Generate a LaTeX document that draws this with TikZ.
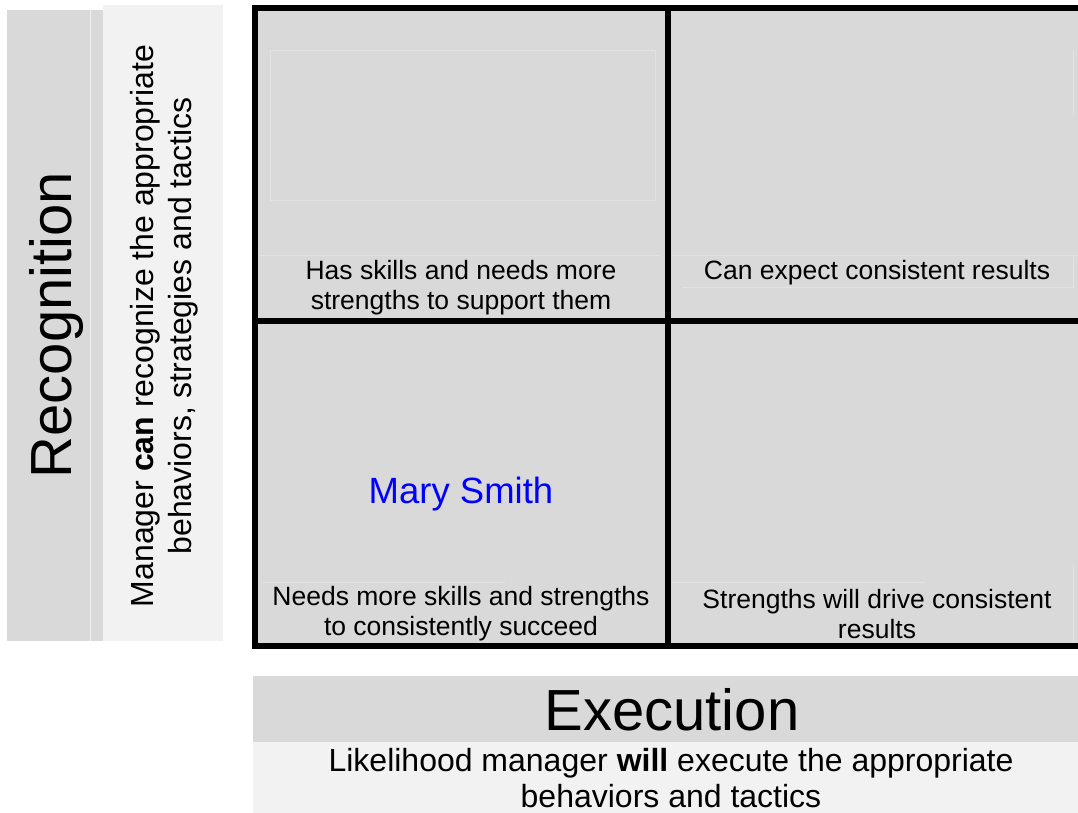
\documentclass[tikz,border=0pt]{standalone}
\usepackage{fontspec}
\setmainfont{Liberation Sans}
\definecolor{bandgray}{HTML}{D9D9D9}
\definecolor{bandlight}{HTML}{F2F2F2}
\definecolor{faintline}{HTML}{E2E2E2}
\definecolor{nameblue}{HTML}{0000FF}
\tikzset{
  grid line/.style={line width=6pt, line cap=rect},
  faint/.style={draw=faintline, line width=0.8pt},
  celltext/.style={align=center, font=\fontsize{26.5}{30}\selectfont, inner sep=0pt},
  axistitle/.style={font=\fontsize{58}{66}\selectfont, inner sep=0pt},
  axisnote/.style={align=center, inner sep=0pt},
}
\begin{document}
\begin{tikzpicture}[x=1pt,y=-1pt]
  % canvas
  \useasboundingbox[fill=white] (0,0) rectangle (1078,813);

  % vertical axis bands
  \fill[bandgray] (7,10) rectangle (103,641);
  \draw[faint, draw=white!60!bandgray] (90,10) -- (90,641);
  \fill[bandlight] (103,5) rectangle (223,641);

  % horizontal axis bands
  \fill[bandgray] (253,676) rectangle (1078,742);
  \fill[bandlight] (253,742) rectangle (1078,813);

  % quadrant fill
  \fill[bandgray] (255,8) rectangle (1078,646);

  % faint outlines of the quadrant text boxes
  \draw[faint] (270,50) rectangle (655,200);
  \draw[faint] (260,255) -- (660,255);
  \draw[faint] (672,255) -- (1078,255);
  \draw[faint] (682,287) -- (1073,287) -- (1073,257);
  \draw[faint] (1073,50) -- (1073,115);
  \draw[faint] (262,582) -- (505,582);
  \draw[faint] (672,582) -- (925,582);
  \draw[faint] (1073,565) -- (1073,643);

  % quadrant frame
  \coordinate (tl) at (255,8);
  \coordinate (tr) at (1078,8);
  \coordinate (bl) at (255,646);
  \coordinate (br) at (1078,646);
  \coordinate (mt) at (668,8);
  \coordinate (mb) at (668,646);
  \coordinate (ml) at (255,321);
  \coordinate (mr) at (1078,321);
  \draw[grid line] (tr) -- (tl) -- (bl) -- (br);
  \draw[grid line] (mt) -- (mb);
  \draw[grid line] (ml) -- (mr);

  % quadrant labels
  \node[celltext] (q1) at (461,288) {Has skills and needs more\\strengths to support them};
  \node[celltext] (q2) at (877,273) {Can expect consistent results};
  \node[celltext] (q3) at (461,614) {Needs more skills and strengths\\to consistently succeed};
  \node[celltext] (q4) at (877,614) {Strengths will drive consistent\\results};
  \node[inner sep=0pt, text=nameblue, font=\fontsize{36.5}{42}\selectfont] (person) at (461,494) {Mary Smith};

  % vertical axis titles
  \node[axistitle, rotate=90] (recog) at (57,325) {Recognition};
  \node[axisnote, rotate=90, font=\fontsize{32}{38}\selectfont] (recognote) at (164,326)
    {Manager \textbf{can} recognize the appropriate\\behaviors, strategies and tactics};

  % horizontal axis titles
  \node[axistitle] (exec) at (672,710) {Execution};
  \node[axisnote, font=\fontsize{32}{36}\selectfont] (execnote) at (671,778)
    {Likelihood manager \textbf{will} execute the appropriate\\behaviors and tactics};
\end{tikzpicture}
\end{document}
